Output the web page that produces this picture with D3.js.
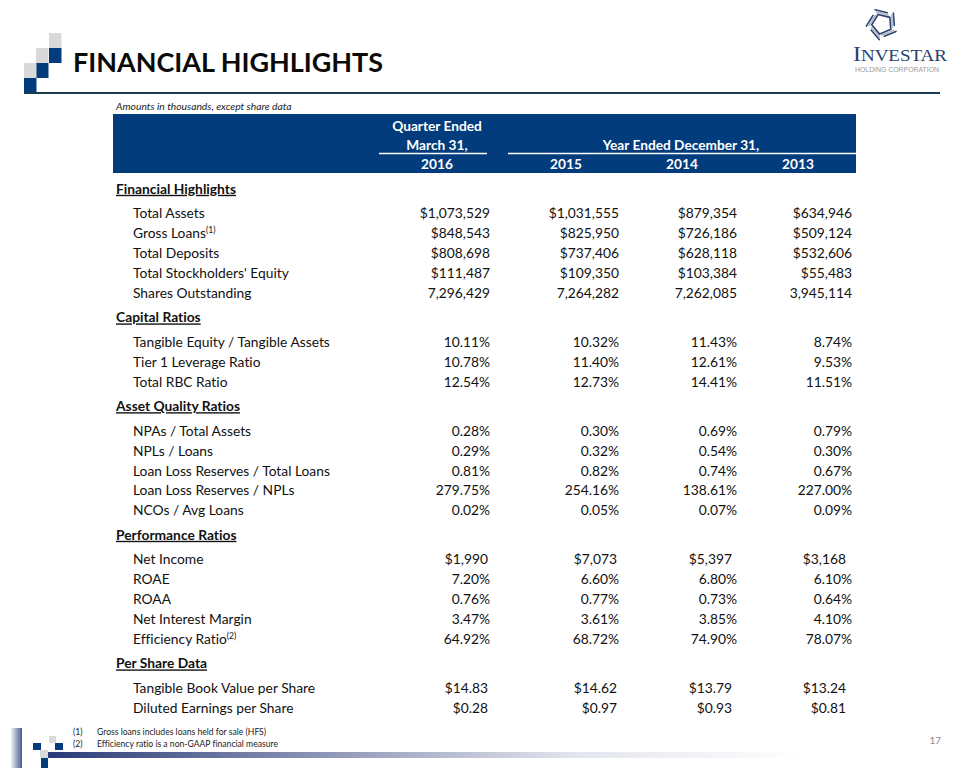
<!DOCTYPE html>
<html><head><meta charset="utf-8">
<script src="https://cdn.jsdelivr.net/npm/d3@7/dist/d3.min.js"></script>
<style>html,body{margin:0;padding:0;background:#fff;}svg{display:block;} text{font-variant-ligatures:none;font-feature-settings:"liga" 0;}</style>
</head><body>
<script>
// ---------- DATA ----------
const title = "FINANCIAL HIGHLIGHTS";
const subtitle = "Amounts in thousands, except share data";
const periods = ["2016", "2015", "2014", "2013"];
const sections = ["Financial Highlights", "Capital Ratios", "Asset Quality Ratios", "Performance Ratios", "Per Share Data"];
const rowLabels = [
  "Total Assets", "Gross Loans", "Total Deposits", "Total Stockholders' Equity", "Shares Outstanding",
  "Tangible Equity / Tangible Assets", "Tier 1 Leverage Ratio", "Total RBC Ratio",
  "NPAs / Total Assets", "NPLs / Loans", "Loan Loss Reserves / Total Loans", "Loan Loss Reserves / NPLs", "NCOs / Avg Loans",
  "Net Income", "ROAE", "ROAA", "Net Interest Margin", "Efficiency Ratio",
  "Tangible Book Value per Share", "Diluted Earnings per Share"
];
const rowSection = [0,0,0,0,0, 1,1,1, 2,2,2,2,2, 3,3,3,3,3, 4,4];
const rowNote = ["", "(1)", "", "", "", "", "", "", "", "", "", "", "", "", "", "", "", "(2)", "", ""];
const values2016 = ["$1,073,529","$848,543","$808,698","$111,487","7,296,429","10.11%","10.78%","12.54%","0.28%","0.29%","0.81%","279.75%","0.02%","$1,990","7.20%","0.76%","3.47%","64.92%","$14.83","$0.28"];
const values2015 = ["$1,031,555","$825,950","$737,406","$109,350","7,264,282","10.32%","11.40%","12.73%","0.30%","0.32%","0.82%","254.16%","0.05%","$7,073","6.60%","0.77%","3.61%","68.72%","$14.62","$0.97"];
const values2014 = ["$879,354","$726,186","$628,118","$103,384","7,262,085","11.43%","12.61%","14.41%","0.69%","0.54%","0.74%","138.61%","0.07%","$5,397","6.80%","0.73%","3.85%","74.90%","$13.79","$0.93"];
const values2013 = ["$634,946","$509,124","$532,606","$55,483","3,945,114","8.74%","9.53%","11.51%","0.79%","0.30%","0.67%","227.00%","0.09%","$3,168","6.10%","0.64%","4.10%","78.07%","$13.24","$0.81"];
const headerTop = ["Quarter Ended"];
const headerMid = ["March 31,", "Year Ended December 31,"];
const footnotes = [["(1)", "Gross loans includes loans held for sale (HFS)"], ["(2)", "Efficiency ratio  is a non-GAAP financial measure"]];
const pageNumber = "17";

// ---------- DRAW ----------
const W = 960, H = 768;
const FONT = "Lato, 'Open Sans', sans-serif";
const BLUE = "#023c7c", GRAY = "#d9d9d9";
const svg = d3.select("body").append("svg").attr("width", W).attr("height", H);
svg.append("rect").attr("width", W).attr("height", H).attr("fill", "#fff");
const defs = svg.append("defs");

// top-left steps
const steps = [[49,33,GRAY],[49,48,BLUE],[36,48,GRAY],[36,63,BLUE],[24,63,GRAY],[24,78,BLUE]];
svg.selectAll("rect.step").data(steps).join("rect").attr("class","step")
  .attr("x", d=>d[0]).attr("y", d=>d[1]).attr("width", 12.5).attr("height", 15).attr("fill", d=>d[2]);
svg.append("line").attr("x1", 24).attr("x2", 940).attr("y1", 93).attr("y2", 93)
  .attr("stroke", "#1c3a50").attr("stroke-width", 2.2);

svg.append("text").text(title).attr("x", 73).attr("y", 72)
  .attr("font-family", FONT).attr("font-weight", 700).attr("font-size", 27)
  .attr("textLength", 310).attr("lengthAdjust", "spacingAndGlyphs").attr("fill", "#0a0a0a");

// logo: pinwheel of striped blades
const logo = svg.append("g").attr("transform", "translate(882,24)");
const bladeColors = ["#2b4372", "#b3b7c2", "#2b4372"];
d3.range(5).forEach(i => {
  const g = logo.append("g").attr("transform", `rotate(${i*72 - 15})`);
  bladeColors.forEach((c, k) => {
    const off = k * 2.6;
    g.append("line").attr("x1", -3 + off * 0.3).attr("y1", -15.5 + off)
      .attr("x2", 8 + off * 0.1).attr("y2", -9.5 + off * 0.9)
      .attr("stroke", c).attr("stroke-width", 1.6).attr("stroke-linecap", "round");
  });
});
svg.append("text").attr("x", 853).attr("y", 61).attr("font-family", "'Liberation Serif', 'DejaVu Serif', serif")
  .attr("fill", "#2b3f6e").attr("textLength", 94).attr("lengthAdjust", "spacingAndGlyphs")
  .call(t => { t.append("tspan").attr("font-size", 22).text("I"); t.append("tspan").attr("font-size", 17.5).text("NVESTAR"); });
svg.append("text").attr("x", 855).attr("y", 72).text("HOLDING CORPORATION")
  .attr("font-family", "'Liberation Sans', sans-serif").attr("font-size", 7.5).attr("fill", "#9a9a9a")
  .attr("textLength", 84).attr("lengthAdjust", "spacingAndGlyphs");

// subtitle
svg.append("text").text(subtitle).attr("x", 116).attr("y", 110)
  .attr("font-family", FONT).attr("font-style", "italic").attr("font-size", 10.3).attr("fill", "#222");

// header band
const colCenters = [437, 566, 682, 798];
const colRight = [490, 619, 737, 852];
svg.append("rect").attr("x", 113).attr("y", 114).attr("width", 743).attr("height", 59).attr("fill", BLUE);
const hdr = svg.append("g").attr("font-family", FONT).attr("font-weight", 700).attr("font-size", 13.7).attr("fill", "#fff").attr("text-anchor", "middle");
hdr.append("text").text(headerTop[0]).attr("x", 437).attr("y", 130.5);
hdr.append("text").text(headerMid[0]).attr("x", 437).attr("y", 149.5);
hdr.append("text").text(headerMid[1]).attr("x", 681).attr("y", 149.5);
hdr.selectAll("text.yr").data(periods).join("text").attr("class","yr").text(d=>d)
  .attr("x", (d,i)=>colCenters[i]).attr("y", 168.5);
svg.append("line").attr("x1", 379).attr("x2", 487).attr("y1", 153.5).attr("y2", 153.5).attr("stroke", "#fff").attr("stroke-width", 1.3);
svg.append("line").attr("x1", 508).attr("x2", 856).attr("y1", 153.5).attr("y2", 153.5).attr("stroke", "#fff").attr("stroke-width", 1.3);

// rows layout
const items = [];
let y = 189;
sections.forEach((s, si) => {
  if (si > 0) y += 24.5;
  items.push({type: "section", label: s, y});
  y += 24.5;
  let first = true;
  rowLabels.forEach((l, ri) => {
    if (rowSection[ri] !== si) return;
    if (!first) y += 19.9;
    first = false;
    items.push({type: "row", label: l, note: rowNote[ri], ri, y});
  });
});
const cols = [values2016, values2015, values2014, values2013];
const body = svg.append("g").attr("font-family", FONT).attr("font-size", 13.8).attr("fill", "#111");
items.forEach(it => {
  if (it.type === "section") {
    body.append("text").text(it.label).attr("x", 116).attr("y", it.y + 4.8).attr("font-weight", 700)
      .attr("text-decoration", "underline");
  } else {
    const t = body.append("text").attr("x", 133).attr("y", it.y + 4.8);
    t.append("tspan").text(it.label);
    if (it.note) t.append("tspan").text(it.note).attr("font-size", 8.5).attr("dy", -5);
    cols.forEach((c, ci) => {
      const v = c[it.ri];
      const inset = (rowSection[it.ri] >= 3 && v.startsWith("$")) ? [2,2,5,6][ci] : 0;
      body.append("text").text(v).attr("x", colRight[ci] - inset).attr("y", it.y + 4.8).attr("text-anchor", "end");
    });
  }
});

// footer decorations
const vg = defs.append("linearGradient").attr("id", "vg").attr("x1", 0).attr("x2", 1);
vg.append("stop").attr("offset", 0).attr("stop-color", "#eef0f6");
vg.append("stop").attr("offset", 1).attr("stop-color", "#4a5c92");
svg.append("rect").attr("x", 11).attr("y", 728).attr("width", 11).attr("height", 40).attr("fill", "url(#vg)");
const hg = defs.append("linearGradient").attr("id", "hg").attr("x1", 0).attr("x2", 1);
hg.append("stop").attr("offset", 0).attr("stop-color", "#2a3a78");
hg.append("stop").attr("offset", 0.35).attr("stop-color", "#8a93b4");
hg.append("stop").attr("offset", 0.7).attr("stop-color", "#e4e6ee");
hg.append("stop").attr("offset", 1).attr("stop-color", "#ffffff");
svg.append("rect").attr("x", 48).attr("y", 752).attr("width", 760).attr("height", 6).attr("fill", "url(#hg)");
const fsq = [[33,743,8,7,BLUE],[49,736,7,7,GRAY],[55,743,8,7,BLUE],[40,750,8,8,GRAY],[41,758,7,10,BLUE]];
svg.selectAll("rect.fsq").data(fsq).join("rect").attr("class","fsq")
  .attr("x", d=>d[0]).attr("y", d=>d[1]).attr("width", d=>d[2]).attr("height", d=>d[3]).attr("fill", d=>d[4]);

const fn = svg.append("g").attr("font-family", FONT).attr("font-size", 8.6).attr("fill", "#222");
footnotes.forEach((f, i) => {
  fn.append("text").text(f[0]).attr("x", 73).attr("y", 735 + i*12);
  fn.append("text").text(f[1]).attr("x", 97).attr("y", 735 + i*12);
});
svg.append("text").text(pageNumber).attr("x", 941).attr("y", 744).attr("text-anchor", "end")
  .attr("font-family", FONT).attr("font-size", 10).attr("fill", "#8a8a8a");
</script>
</body></html>
